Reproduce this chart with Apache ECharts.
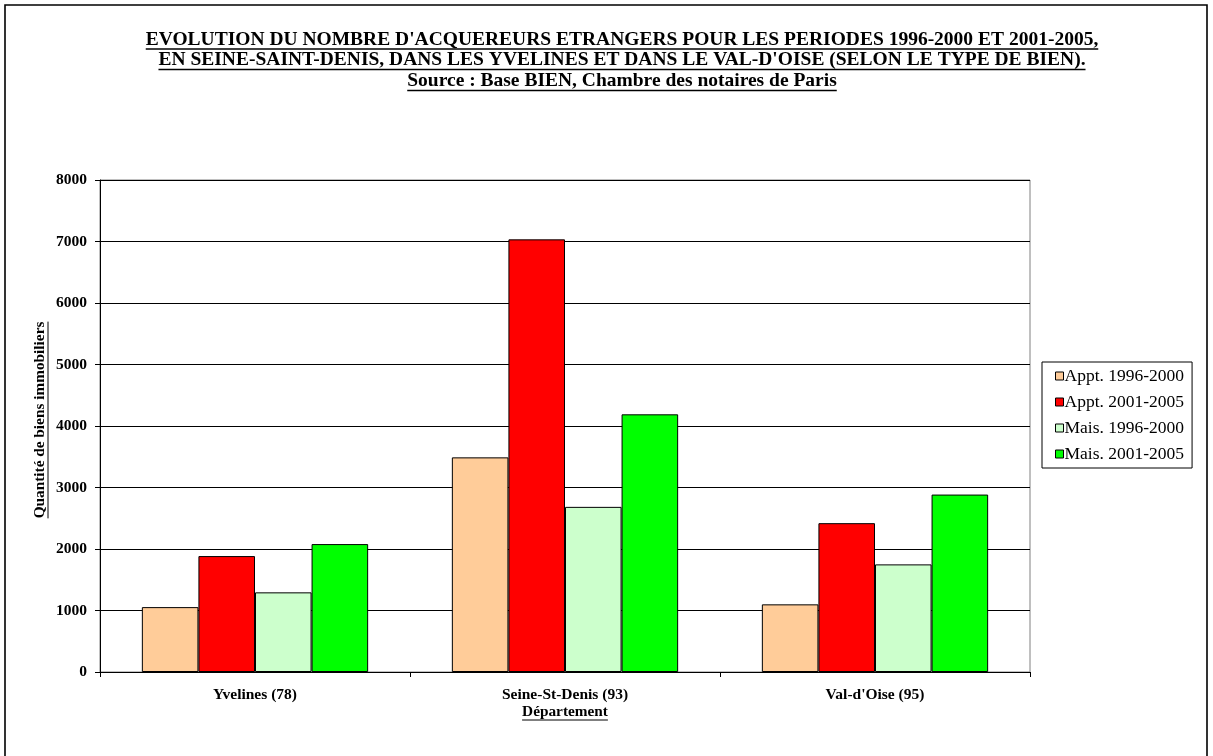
<!DOCTYPE html>
<html><head><meta charset="utf-8">
<script src="https://cdn.jsdelivr.net/npm/echarts@6/dist/echarts.min.js"></script>
<style>html,body{margin:0;padding:0;background:#fff}#c{width:1213px;height:756px}</style>
</head><body><div id="c"></div>
<script>
const categories = ['Yvelines (78)', 'Seine-St-Denis (93)', "Val-d'Oise (95)"];
const seriesNames = ['Appt. 1996-2000', 'Appt. 2001-2005', 'Mais. 1996-2000', 'Mais. 2001-2005'];
const appt9600 = [1055, 3490, 1100];
const appt0105 = [1885, 7035, 2420];
const mais9600 = [1295, 2685, 1750];
const mais0105 = [2080, 4190, 2885];
const colors = ['#FFCC99', '#FF0000', '#CCFFCC', '#00FF00'];
const yTicks = [0, 1000, 2000, 3000, 4000, 5000, 6000, 7000, 8000];
const titleLines = [
  "EVOLUTION DU NOMBRE D'ACQUEREURS ETRANGERS POUR LES PERIODES 1996-2000 ET 2001-2005,",
  "EN SEINE-SAINT-DENIS, DANS LES YVELINES ET DANS LE VAL-D'OISE (SELON LE TYPE DE BIEN).",
  "Source : Base BIEN, Chambre des notaires de Paris"
];
const xName = 'Département';
const yName = 'Quantité de biens immobiliers';

const FONT = '"Liberation Serif","Times New Roman",serif';
const mc = document.createElement('canvas').getContext('2d');
function tw(txt, size, weight) { mc.font = (weight||'bold') + ' ' + size + 'px ' + FONT; return mc.measureText(txt).width; }

const graphics = [];
graphics.push({type:'rect', shape:{x:5,y:5,width:1202,height:760}, style:{fill:'none', stroke:'#000', lineWidth:1.6}, silent:true});
const tSize = 19.5;
const tYs = [39.5, 60, 81];
titleLines.forEach((t, i) => {
  const w = tw(t, tSize);
  const cx = 622;
  graphics.push({type:'text', x:cx, y:tYs[i], style:{text:t, font:'bold '+tSize+'px '+FONT, fill:'#000', textAlign:'center', textVerticalAlign:'middle'}});
  graphics.push({type:'line', shape:{x1:cx-w/2, y1:tYs[i]+9.5, x2:cx+w/2, y2:tYs[i]+9.5}, style:{stroke:'#000', lineWidth:1.5}});
});
const nSize = 15.3;
// x axis name
{
  const w = tw(xName, nSize);
  graphics.push({type:'text', x:565, y:712, style:{text:xName, font:'bold '+nSize+'px '+FONT, fill:'#000', textAlign:'center', textVerticalAlign:'middle'}});
  graphics.push({type:'line', shape:{x1:565-w/2, y1:720, x2:565+w/2, y2:720}, style:{stroke:'#000', lineWidth:1}});
}
// y axis name
{
  const w = tw(yName, nSize);
  graphics.push({type:'group', x:40, y:420, rotation:Math.PI/2, children:[
    {type:'text', x:0, y:0, style:{text:yName, font:'bold '+nSize+'px '+FONT, fill:'#000', textAlign:'center', textVerticalAlign:'middle'}},
    {type:'line', shape:{x1:-w/2, y1:8, x2:w/2, y2:8}, style:{stroke:'#000', lineWidth:1}}
  ]});
}

const data = [appt9600, appt0105, mais9600, mais0105];
const chart = echarts.init(document.getElementById('c'), null, {renderer:'canvas'});
chart.setOption({
  animation:false,
  backgroundColor:'#fff',
  textStyle:{fontFamily:FONT},
  grid:{left:100, top:180, right:183, bottom:84, show:true, borderColor:'#808080', borderWidth:1},
  legend:{
    orient:'vertical', left:1042, top:362,
    padding:[5,8,5,13], itemGap:8, itemWidth:8, itemHeight:8,
    borderColor:'#000', borderWidth:1, backgroundColor:'#fff',
    icon:'rect',
    itemStyle:{borderColor:'#000', borderWidth:1},
    textStyle:{fontFamily:FONT, fontSize:17.5, lineHeight:17.3, color:'#000', padding:[0,0,0,-4]},
    data: seriesNames
  },
  xAxis:{
    type:'category', data:categories,
    axisLine:{lineStyle:{color:'#000', width:1}},
    axisTick:{show:true, length:5, lineStyle:{color:'#000'}},
    axisLabel:{fontFamily:FONT, fontWeight:'bold', fontSize:15.5, color:'#000', margin:15}
  },
  yAxis:{
    type:'value', min:yTicks[0], max:yTicks[yTicks.length-1], interval:1000,
    axisLine:{show:true, lineStyle:{color:'#000'}},
    axisTick:{show:true, length:5, lineStyle:{color:'#000'}},
    axisLabel:{fontFamily:FONT, fontWeight:'bold', fontSize:15.5, color:'#000', margin:13, formatter:v => String(v)},
    splitLine:{lineStyle:{color:'#000', width:1}}
  },
  series: seriesNames.map((n, i) => ({
    name:n, type:'bar', data:data[i],
    barGap:'0%', barCategoryGap:'27%',
    itemStyle:{color:colors[i], borderColor:'#000', borderWidth:1}
  })),
  graphic: graphics
});
</script></body></html>
